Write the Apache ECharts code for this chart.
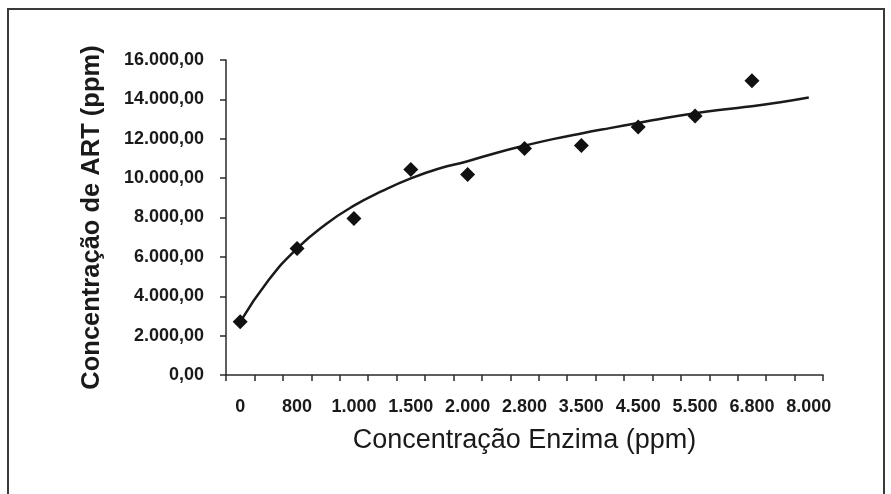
<!DOCTYPE html>
<html>
<head>
<meta charset="utf-8">
<script src="https://cdn.jsdelivr.net/npm/echarts@6/dist/echarts.min.js"></script>
<style>
html,body{margin:0;padding:0;background:#fff;}
#chart{width:891px;height:494px;}
</style>
</head>
<body>
<div id="chart"></div>
<script>
// Category labels of the x axis (enzyme concentration, ppm)
var categories = ['0', '800', '1.000', '1.500', '2.000', '2.800', '3.500', '4.500', '5.500', '6.800', '8.000'];
// Measured ART concentration (ppm), one per category (last category has no point)
var artValues = [2700, 6430, 7950, 10440, 10190, 11510, 11660, 12600, 13150, 14940];
// Trend curve, at every half category step (21 positions)
var trendValues = [2700, 4820, 6430, 7650, 8600, 9350, 9990, 10490, 10860, 11280, 11650,
                   11980, 12270, 12540, 12800, 13070, 13300, 13490, 13650, 13850, 14090];
// Y-axis ticks
var yMin = 0, yMax = 16000, yStep = 2000;

// Build a 21-slot axis: each category followed by an empty half step
var axisCats = [];
categories.forEach(function (c, i) {
  axisCats.push(c);
  if (i < categories.length - 1) axisCats.push('');
});
var scatterData = artValues.map(function (v, i) { return [i * 2, v]; });

function fmtY(v) {
  var s = String(Math.round(v)).replace(/\B(?=(\d{3})+(?!\d))/g, '.');
  return s + ',00';
}

var chart = echarts.init(document.getElementById('chart'), null, {renderer: 'canvas'});
var font = 'Liberation Sans, Arial, Helvetica, sans-serif';
chart.setOption({
  animation: false,
  backgroundColor: '#ffffff',
  graphic: [{
    type: 'rect',
    shape: {x: 8, y: 9, width: 876, height: 500},
    style: {fill: 'none', stroke: '#3a3a3a', lineWidth: 2},
    silent: true
  }],
  grid: {left: 226, top: 60, right: 68, bottom: 119, containLabel: false},
  xAxis: {
    type: 'category',
    data: axisCats,
    boundaryGap: true,
    name: 'Concentração Enzima (ppm)',
    nameLocation: 'middle',
    nameGap: 52,
    nameTextStyle: {fontFamily: font, fontSize: 27, color: '#1a1a1a'},
    axisLine: {lineStyle: {color: '#2a2a2a', width: 1.5}},
    axisTick: {show: true, interval: 0, length: 6, lineStyle: {color: '#2a2a2a', width: 1.5}},
    axisLabel: {interval: 0, margin: 23, fontFamily: font, fontSize: 18, fontWeight: 'bold', color: '#1a1a1a'},
    splitLine: {show: false}
  },
  yAxis: {
    type: 'value',
    min: yMin, max: yMax, interval: yStep,
    name: 'Concentração de ART (ppm)',
    nameLocation: 'middle',
    nameGap: 121,
    nameRotate: 90,
    nameTextStyle: {fontFamily: font, fontSize: 25.5, fontWeight: 'bold', color: '#1a1a1a'},
    axisLine: {show: true, lineStyle: {color: '#2a2a2a', width: 1.5}},
    axisTick: {show: true, length: 6, lineStyle: {color: '#2a2a2a', width: 1.5}},
    axisLabel: {margin: 22, fontFamily: font, fontSize: 18, fontWeight: 'bold', color: '#1a1a1a', formatter: fmtY},
    splitLine: {show: false}
  },
  series: [{
    type: 'line',
    data: trendValues,
    smooth: true,
    showSymbol: false,
    symbol: 'none',
    lineStyle: {color: '#1a1a1a', width: 2.5},
    z: 2
  }, {
    type: 'scatter',
    data: scatterData,
    symbol: 'diamond',
    symbolSize: 15,
    itemStyle: {color: '#111111', opacity: 1},
    z: 3
  }]
});
</script>
</body>
</html>
